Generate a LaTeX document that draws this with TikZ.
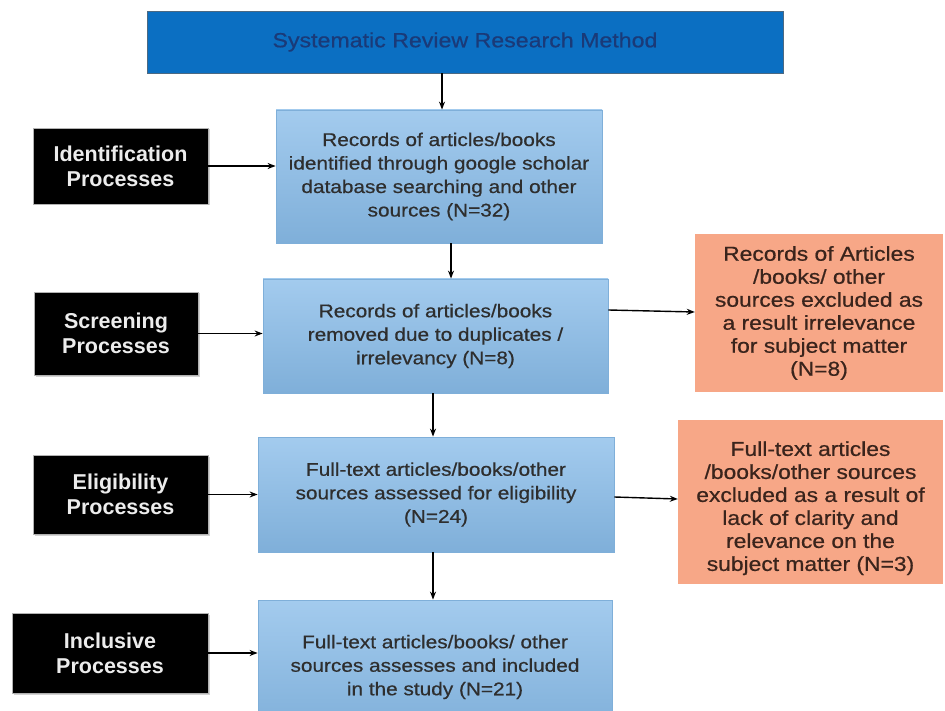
\documentclass[tikz,border=0pt]{standalone}
\usepackage{fontspec}
\setmainfont{Liberation Sans}
\newfontfamily\widefont{Liberation Sans}[FakeStretch=1.13,FakeBold=0.6]
\usetikzlibrary{arrows.meta,shadows}
\definecolor{titleblue}{HTML}{0B6FC2}
\definecolor{titletext}{HTML}{1A3A78}
\definecolor{lightblue}{HTML}{A3CBEE}
\definecolor{lightblueb}{HTML}{7FAFD9}
\definecolor{salmon}{HTML}{F7A787}
\definecolor{boxtext}{HTML}{2E2E2E}
\definecolor{saltext}{HTML}{3A241C}
\tikzset{
  titlebox/.style={draw=lightblueb!60!black, line width=0.8pt, fill=titleblue, text=titletext, font=\widefont\fontsize{20.5}{24}\selectfont, align=center},
  bluebox/.style={draw=lightblueb, line width=0.8pt, top color=lightblue, bottom color=lightblueb, text=boxtext, font=\widefont\fontsize{18.4}{23.5}\selectfont, align=center, inner sep=0pt},
  salbox/.style={draw=none, fill=salmon, text=saltext, font=\widefont\fontsize{20.2}{23}\selectfont, align=center, inner sep=0pt},
  blackbox/.style={draw=gray!60, line width=0.6pt, fill=black, text=white!85!gray, font=\bfseries\fontsize{21.5}{25}\selectfont, align=center, inner sep=0pt, drop shadow={shadow xshift=1.5pt, shadow yshift=-1.5pt, opacity=0.35}},
  conn/.style={-{Stealth[length=8pt,width=6pt]}, line width=1.4pt, black}
}
\begin{document}
\begin{tikzpicture}[x=1pt,y=-1pt]
\useasboundingbox (0,0) rectangle (945,711);
\fill[white] (0,0) rectangle (945,711);
% title
\node[titlebox, minimum width=636pt, minimum height=62pt] (title) at (465,42) {Systematic Review Research Method};
% blue boxes
\node[bluebox, minimum width=326pt, minimum height=133pt] (b1) at (439,176.5) {Records of articles/books\\identified through google scholar\\database searching and other\\sources (N=32)};
\node[bluebox, minimum width=345pt, minimum height=114pt] (b2) at (435.5,336) {Records of articles/books\\removed due to duplicates /\\irrelevancy (N=8)};
\node[bluebox, minimum width=356pt, minimum height=115pt] (b3) at (436,494.5) {Full-text articles/books/other\\sources assessed for eligibility\\(N=24)};
\node[bluebox, minimum width=354pt, minimum height=134pt] (b4) at (435,667) {Full-text articles/books/ other\\sources assesses and included\\in the study (N=21)};
% salmon boxes
\node[salbox, minimum width=248pt, minimum height=158pt] (s1) at (819,313) {Records of Articles\\/books/ other\\sources excluded as\\a result irrelevance\\for subject matter\\(N=8)};
\node[salbox, minimum width=265pt, minimum height=164pt] (s2) at (810.5,502) {\rule{0pt}{27pt}Full-text articles\\/books/other sources\\excluded as a result of\\lack of clarity and\\relevance on the\\subject matter  (N=3)};
% black boxes
\node[blackbox, minimum width=175pt, minimum height=76pt] (k1) at (120.5,166) {Identification\\Processes};
\node[blackbox, minimum width=164pt, minimum height=83pt] (k2) at (116,333.5) {Screening\\Processes};
\node[blackbox, minimum width=175pt, minimum height=79pt] (k3) at (120.5,494.5) {Eligibility\\Processes};
\node[blackbox, minimum width=196pt, minimum height=80pt] (k4) at (110,653) {Inclusive\\Processes};
% connectors
\draw[conn] (title.south -| 442,0) -- (b1.north -| 442,0);
\draw[conn] (b1.south -| 451,0) -- (b2.north -| 451,0);
\draw[conn] (b2.south -| 433,0) -- (b3.north -| 433,0);
\draw[conn] (b3.south -| 433,0) -- (b4.north -| 433,0);
\draw[conn] (k1.east) -- (k1.east -| b1.west);
\draw[conn] (k2.east) -- (k2.east -| b2.west);
\draw[conn] (k3.east) -- (k3.east -| b3.west);
\draw[conn] (k4.east) -- (k4.east -| b4.west);
\draw[conn] (b2.east |- 0,310) -- (s1.west |- 0,312);
\draw[conn] (b3.east |- 0,497) -- (s2.west |- 0,499);
\end{tikzpicture}
\end{document}
